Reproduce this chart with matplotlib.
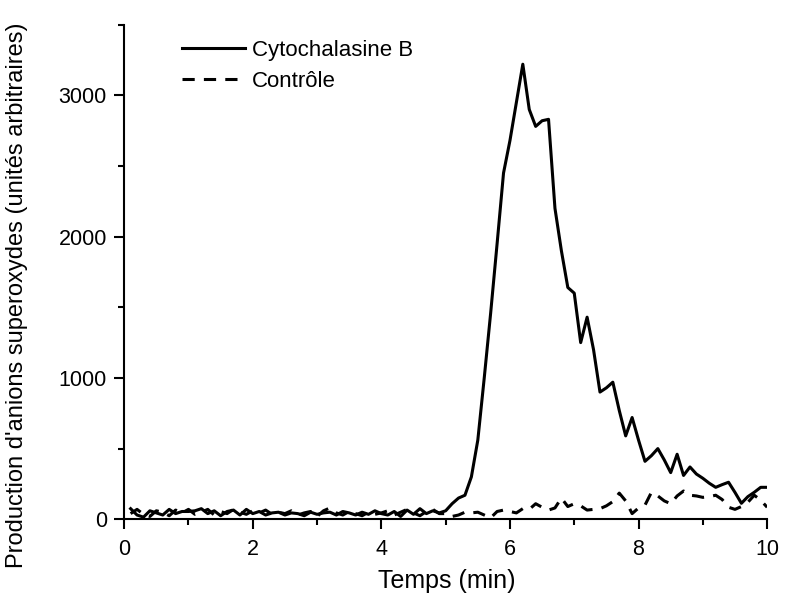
import numpy as np
import matplotlib
matplotlib.use("Agg")
import matplotlib.pyplot as plt
from matplotlib.ticker import MultipleLocator

plt.rcParams['font.family'] = ['Liberation Sans', 'DejaVu Sans']

# temps (min), one reading every 0.1 min
temps = [0.1, 0.2, 0.3, 0.4, 0.5, 0.6, 0.7, 0.8, 0.9, 1.0,
         1.1, 1.2, 1.3, 1.4, 1.5, 1.6, 1.7, 1.8, 1.9, 2.0,
         2.1, 2.2, 2.3, 2.4, 2.5, 2.6, 2.7, 2.8, 2.9, 3.0,
         3.1, 3.2, 3.3, 3.4, 3.5, 3.6, 3.7, 3.8, 3.9, 4.0,
         4.1, 4.2, 4.3, 4.4, 4.5, 4.6, 4.7, 4.8, 4.9, 5.0,
         5.1, 5.2, 5.3, 5.4, 5.5, 5.6, 5.7, 5.8, 5.9, 6.0,
         6.1, 6.2, 6.3, 6.4, 6.5, 6.6, 6.7, 6.8, 6.9, 7.0,
         7.1, 7.2, 7.3, 7.4, 7.5, 7.6, 7.7, 7.8, 7.9, 8.0,
         8.1, 8.2, 8.3, 8.4, 8.5, 8.6, 8.7, 8.8, 8.9, 9.0,
         9.1, 9.2, 9.3, 9.4, 9.5, 9.6, 9.7, 9.8, 9.9, 10.0]

cytochalasine = [75, 30, 15, 60, 45, 30, 70, 40, 55, 55,
                 60, 75, 40, 60, 25, 55, 65, 30, 70, 40,
                 55, 30, 45, 50, 30, 45, 40, 25, 50, 35,
                 45, 50, 30, 55, 45, 30, 50, 35, 60, 40,
                 30, 55, 20, 65, 35, 75, 40, 60, 45, 60,
                 110, 150, 170, 300, 560, 1000, 1460, 1950, 2450, 2680,
                 2950, 3220, 2900, 2780, 2820, 2830, 2200, 1900, 1640, 1600,
                 1250, 1430, 1200, 900, 930, 970, 770, 590, 720, 560,
                 410, 450, 500, 420, 330, 460, 310, 370, 320, 290,
                 255, 226, 245, 262, 190, 113, 160, 191, 226, 226]

controle = [40, 70, 35, 20, 60, 50, 25, 65, 45, 70,
            35, 50, 70, 30, 55, 40, 70, 50, 35, 60,
            45, 65, 35, 50, 40, 60, 30, 45, 55, 20,
            60, 80, 45, 30, 55, 40, 25, 50, 35, 45,
            60, 30, 50, 70, 45, 25, 55, 70, 40, 40,
            20, 30, 50, 45, 50, 30, 10, 55, 65, 55,
            45, 75, 70, 110, 85, 65, 80, 150, 90, 110,
            95, 65, 70, 75, 95, 125, 185, 130, 40, 80,
            100, 190, 165, 130, 110, 165, 200, 170, 165, 155,
            160, 170, 140, 85, 70, 90, 120, 170, 135, 85]

fig = plt.figure(figsize=(7.86, 6.01), dpi=100)
ax = fig.add_axes([0.158, 0.136, 0.818, 0.823])

ax.plot(temps, cytochalasine, color='black', lw=2.2, label='Cytochalasine B')
ax.plot(temps, controle, color='black', lw=2.2, linestyle=(0, (4, 3)), label='Contrôle')

ax.set_xlim(0, 10)
ax.set_ylim(0, 3500)
ax.xaxis.set_major_locator(MultipleLocator(2))
ax.xaxis.set_minor_locator(MultipleLocator(1))
ax.yaxis.set_major_locator(MultipleLocator(1000))
ax.yaxis.set_minor_locator(MultipleLocator(500))

for s in ['top', 'right']:
    ax.spines[s].set_visible(False)
for s in ['left', 'bottom']:
    ax.spines[s].set_linewidth(1.5)

ax.tick_params(which='major', direction='out', length=7.5, width=1.5, labelsize=15.5)
ax.tick_params(which='minor', direction='out', length=4.5, width=1.5)
ax.tick_params(axis='x', which='major', pad=7)
ax.tick_params(axis='y', which='major', pad=5)

ax.set_xlabel('Temps (min)', fontsize=18)
ax.set_ylabel("Production d'anions superoxydes (unités arbitraires)", fontsize=17)
ax.xaxis.set_label_coords(0.502, -0.1)
ax.yaxis.set_label_coords(-0.15, 0.453)

ax.legend(loc='upper left', bbox_to_anchor=(0.09, 0.969), frameon=False,
          fontsize=16, handlelength=2.85, handletextpad=0.3, borderpad=0,
          borderaxespad=0, labelspacing=0.45)

fig.savefig('out.png', dpi=100)
